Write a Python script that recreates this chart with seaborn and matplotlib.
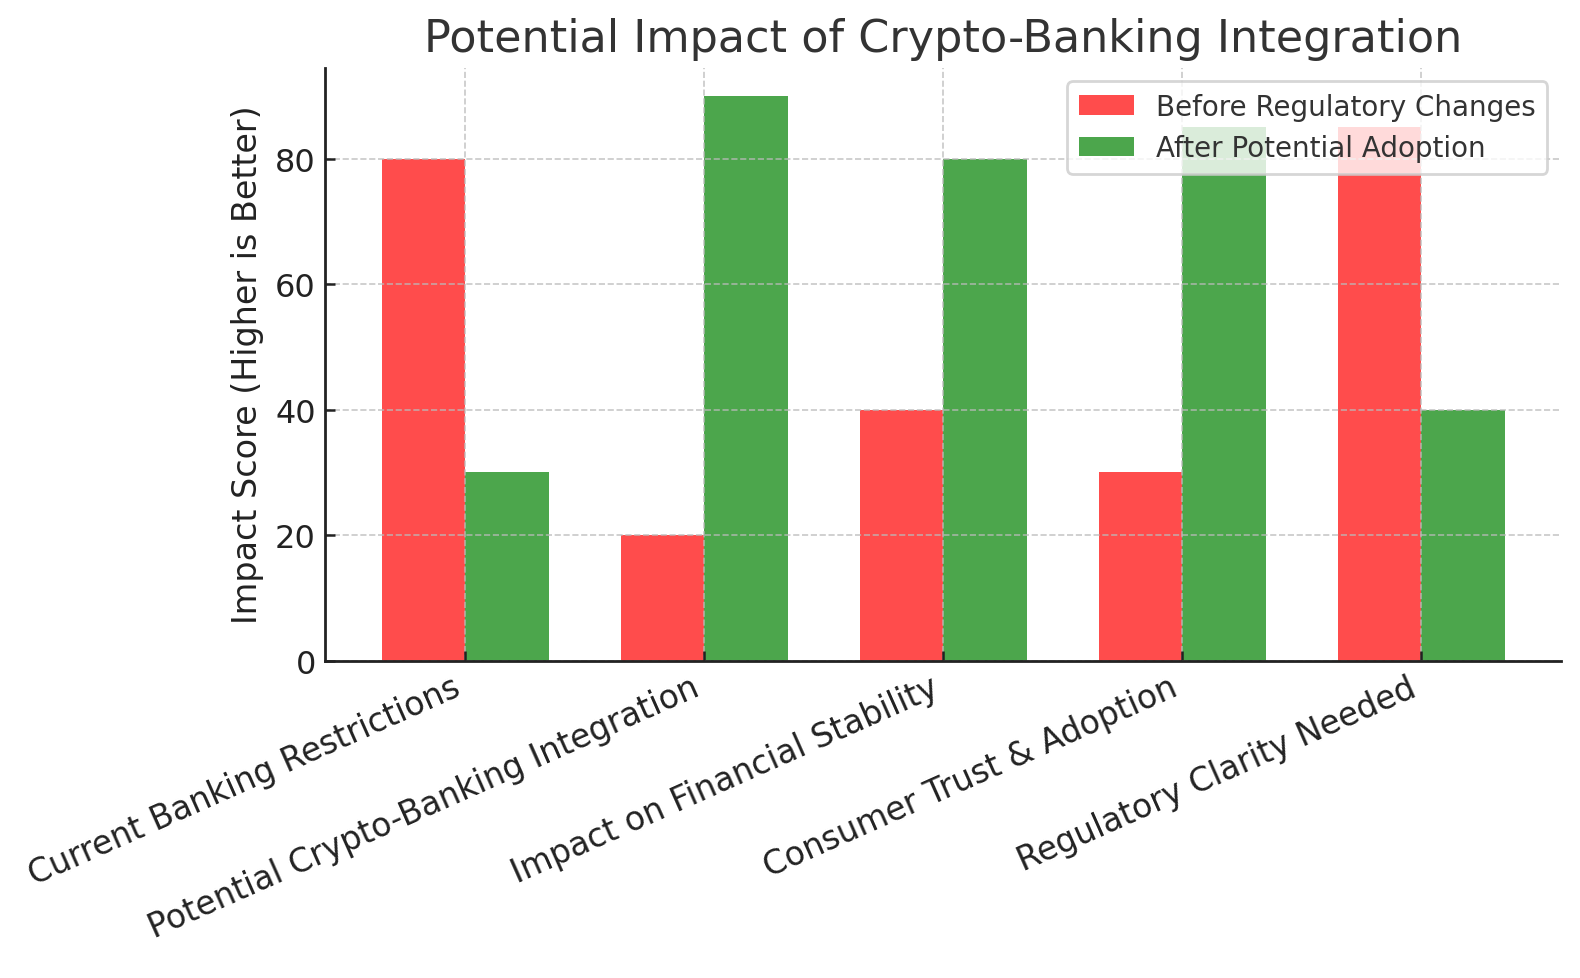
import pandas as pd
import seaborn as sns
import matplotlib.pyplot as plt

categories = ["Current Banking Restrictions", "Potential Crypto-Banking Integration",
              "Impact on Financial Stability", "Consumer Trust & Adoption",
              "Regulatory Clarity Needed"]
before = [80, 20, 40, 30, 85]
after = [30, 90, 80, 85, 40]
series = ["Before Regulatory Changes", "After Potential Adoption"]

df = pd.DataFrame({
    "category": categories * 2,
    "score": before + after,
    "series": [series[0]] * len(categories) + [series[1]] * len(categories),
})

sns.set_style("white")
plt.rcParams['font.family'] = ['DejaVu Sans']
plt.rcParams['text.color'] = '#333333'
plt.rcParams['xtick.color'] = '#222222'
plt.rcParams['ytick.color'] = '#222222'
plt.rcParams['axes.labelcolor'] = '#222222'

fig, ax = plt.subplots(figsize=(7.9, 4.895), dpi=200)
sns.barplot(data=df, x="category", y="score", hue="series", order=categories,
            hue_order=series, palette=["red", "green"], alpha=0.7, width=0.7,
            gap=0, saturation=1, linewidth=0, ax=ax)

ax.set_xlim(-0.585, 4.585)
ax.set_ylim(0, 94.5)
ax.set_title("Potential Impact of Crypto-Banking Integration", fontsize=16, color='#333333')
ax.set_xlabel("")
ax.set_ylabel("Impact Score (Higher is Better)", fontsize=12)
ax.set_yticks([0, 20, 40, 60, 80])
plt.setp(ax.get_xticklabels(), rotation=24, ha='right', fontsize=11.8)
plt.setp(ax.get_yticklabels(), fontsize=11.5)
ax.tick_params(direction='in', length=3.5, width=0.9, left=True, bottom=True)

ax.grid(True, linestyle='--', color='#bbbbbb', alpha=0.8, linewidth=0.6)
ax.set_axisbelow(False)
for s in ['top', 'right']:
    ax.spines[s].set_visible(False)
for s in ['left', 'bottom']:
    ax.spines[s].set_color('#222222')
    ax.spines[s].set_linewidth(1.0)
    ax.spines[s].set_zorder(5)

leg = ax.legend(loc='upper right', fontsize=10, frameon=True)
leg.get_frame().set_edgecolor('#cccccc')
for t in leg.get_texts():
    t.set_color('#333333')

plt.subplots_adjust(left=0.206, right=0.988, top=0.930, bottom=0.324)
plt.savefig("out.png", dpi=200)
